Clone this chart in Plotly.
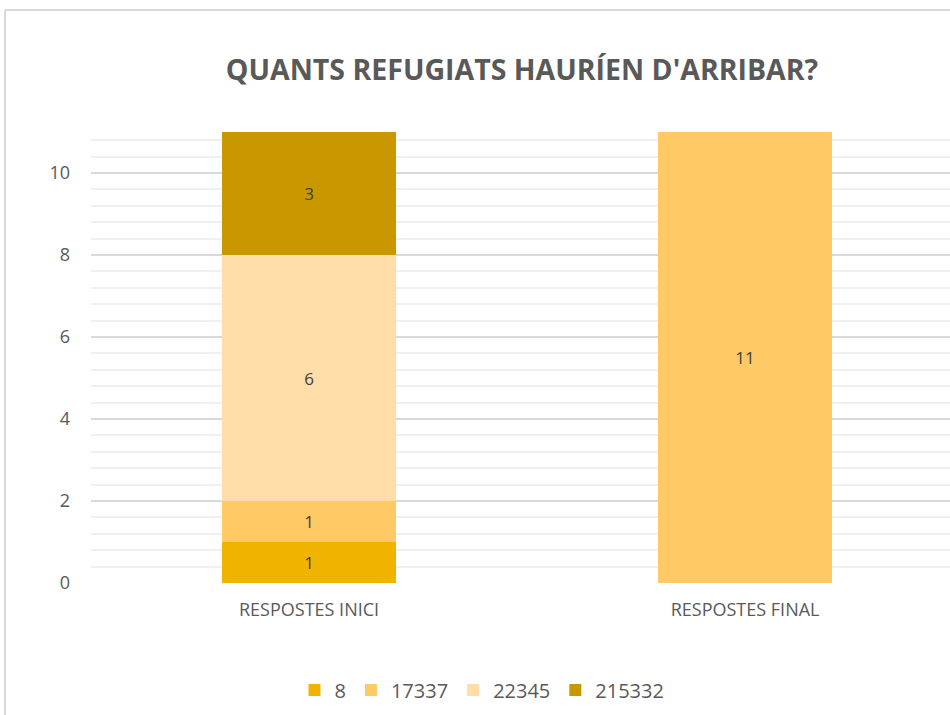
import plotly.graph_objects as go

categories = ["RESPOSTES INICI", "RESPOSTES FINAL"]
series_names = ["8", "17337", "22345", "215332"]
values_8 = [1, 0]
values_17337 = [1, 11]
values_22345 = [6, 0]
values_215332 = [3, 0]
y_ticks = [0, 2, 4, 6, 8, 10]

series_values = [values_8, values_17337, values_22345, values_215332]
colors = ["#F0B400", "#FFC966", "#FFDDA9", "#C99700"]

fig = go.Figure()
for name, vals, col in zip(series_names, series_values, colors):
    fig.add_trace(go.Bar(
        x=categories, y=vals, name=name,
        marker=dict(color=col, line=dict(width=0)),
        width=0.4,
        text=[str(v) if v else "" for v in vals],
        textposition="inside", insidetextanchor="middle",
        textfont=dict(family="Open Sans", size=17, color="#404040"),
        hoverinfo="skip",
    ))

W, H = 950, 715
L, R, T, B = 91, 0, 132, 132
pw, ph = W - L - R, H - T - B

def px(x):
    return (x - L) / pw

def py(y):
    return (H - B - y) / ph

fig.update_layout(
    width=W, height=H,
    barmode="stack",
    paper_bgcolor="white", plot_bgcolor="white",
    margin=dict(l=L, r=R, t=T, b=B),
    title=dict(text="<b>QUANTS REFUGIATS HAURÍEN D'ARRIBAR?</b>",
               font=dict(family="Open Sans", size=28.5, color="#595959"),
               x=522 / W, xanchor="center", xref="container",
               y=1 - 70 / H, yanchor="middle"),
    legend=dict(orientation="h", traceorder="normal",
                x=px(482), xanchor="center", y=py(690), yanchor="middle",
                font=dict(family="Open Sans", size=20, color="#595959"),
                itemwidth=30),
    showlegend=True,
    xaxis=dict(range=[-0.5, 1.47], showgrid=False, zeroline=False, showline=False,
               ticks="", tickfont=dict(family="Open Sans", size=18, color="#595959"),
               ticklabelstandoff=14, fixedrange=True),
    yaxis=dict(range=[0, 11], tickvals=y_ticks, showgrid=True, gridcolor="#D9D9D9",
               gridwidth=1.5, zeroline=False, showline=False, ticks="",
               tickfont=dict(family="Open Sans", size=18, color="#595959"),
               ticklabelstandoff=20,
               minor=dict(dtick=0.4, tick0=0, showgrid=True, gridcolor="#F0F0F0", gridwidth=1.5)),
)

# chart area border (left and top)
fig.add_shape(type="line", xref="paper", yref="paper",
              x0=px(5), x1=px(5), y0=py(10), y1=py(715), line=dict(color="#D9D9D9", width=2))
fig.add_shape(type="line", xref="paper", yref="paper",
              x0=px(5), x1=px(950), y0=py(10), y1=py(10), line=dict(color="#D9D9D9", width=2))

fig.write_html("out.html", config={"displayModeBar": False},
               post_script="document.body.style.margin='0';")
